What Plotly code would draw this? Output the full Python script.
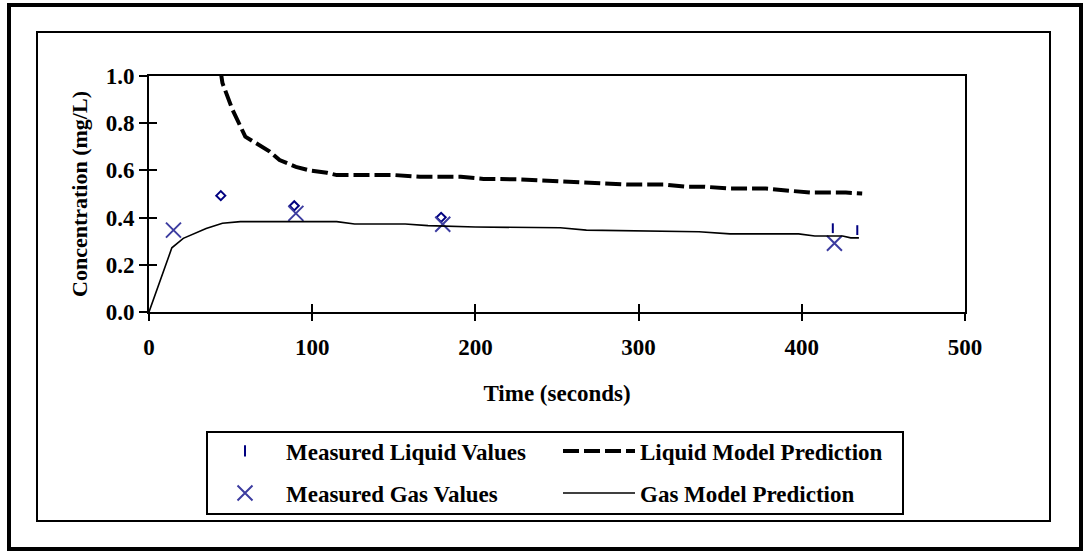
import plotly.graph_objects as go

# ---- data ----
liq_meas_t = [44, 89, 179, 419, 434]
liq_meas_c = [0.493, 0.450, 0.401, 0.355, 0.347]
liq_meas_sym = ["diamond-open", "diamond-open", "diamond-open", "line-ns", "line-ns"]

gas_meas_t = [15, 90, 180, 420]
gas_meas_c = [0.347, 0.418, 0.372, 0.291]

liq_model_t = [40, 45, 51, 59, 74, 80, 90, 99, 109, 115, 151, 166, 191, 205, 228,
               252, 267, 278, 293, 316, 329, 340, 356, 378, 396, 405, 427, 437]
liq_model_c = [1.2, 0.97, 0.86, 0.743, 0.68, 0.644, 0.615, 0.599, 0.59, 0.58, 0.58,
               0.573, 0.573, 0.564, 0.562, 0.555, 0.548, 0.548, 0.54, 0.54, 0.531,
               0.531, 0.523, 0.523, 0.514, 0.506, 0.506, 0.502]

gas_model_t = [0, 14, 21, 35, 45, 56, 115, 126, 157, 171, 200, 252, 268, 337, 356,
               398, 408, 425, 430, 435]
gas_model_c = [0, 0.272, 0.312, 0.354, 0.376, 0.383, 0.383, 0.373, 0.373, 0.366,
               0.36, 0.357, 0.347, 0.34, 0.331, 0.331, 0.322, 0.322, 0.314, 0.314]

x_ticks = [0, 100, 200, 300, 400, 500]
y_ticks = [0.0, 0.2, 0.4, 0.6, 0.8, 1.0]

FONT = "Liberation Serif"
NAVY = "#000080"
SLATE = "#3C3CA0"

fig = go.Figure()

# measured liquid (plot marks)
fig.add_trace(go.Scatter(
    x=liq_meas_t, y=liq_meas_c, mode="markers", showlegend=False,
    marker=dict(symbol=liq_meas_sym, size=7, color=NAVY,
                line=dict(color=NAVY, width=2)),
))
# legend row 1
fig.add_trace(go.Scatter(
    x=[None], y=[None], mode="markers", name="Measured Liquid Values", legend="legend",
    marker=dict(symbol="line-ns", size=8, color=NAVY, line=dict(color=NAVY, width=2)),
))
fig.add_trace(go.Scatter(
    x=liq_model_t, y=liq_model_c, mode="lines", name="Liquid Model Prediction",
    legend="legend",
    line=dict(color="black", width=4, dash="16px,5px"),
))
# legend row 2
fig.add_trace(go.Scatter(
    x=gas_meas_t, y=gas_meas_c, mode="markers", name="Measured Gas Values",
    legend="legend2",
    marker=dict(symbol="x-thin", size=15, color=SLATE,
                line=dict(color=SLATE, width=2)),
))
fig.add_trace(go.Scatter(
    x=gas_model_t, y=gas_model_c, mode="lines", name="Gas Model Prediction",
    legend="legend2",
    line=dict(color="black", width=1.6),
))

W, H = 1085, 552
L, R, T, B = 149, 120, 76, 240
pw, ph = W - L - R, H - T - B


def px(xp):
    return (xp - L) / pw


def py(yp):
    return (H - B - yp) / ph


def bfont(size):
    return dict(family=FONT, size=size, color="black", weight="bold")


legend_common = dict(
    orientation="h", xanchor="left", yanchor="middle",
    borderwidth=0, bgcolor="rgba(0,0,0,0)", font=bfont(23),
    entrywidth=267, entrywidthmode="pixels", itemwidth=72, traceorder="normal",
)

fig.update_layout(
    width=W, height=H,
    margin=dict(l=L, r=R, t=T, b=B, autoexpand=False),
    paper_bgcolor="white", plot_bgcolor="white",
    font=bfont(22),
    xaxis=dict(
        range=[0, 500], tickvals=x_ticks, ticktext=[str(v) for v in x_ticks],
        ticks="outside", ticklen=7, tickwidth=2, tickcolor="black",
        showline=True, linecolor="black", linewidth=2, mirror=True,
        showgrid=False, zeroline=False, tickfont=bfont(23), ticklabelstandoff=6,
        title=dict(text="Time (seconds)", font=bfont(23), standoff=26),
    ),
    yaxis=dict(
        range=[0, 1.0], tickvals=y_ticks, ticktext=[f"{v:.1f}" for v in y_ticks],
        ticks="outside", ticklen=8, tickwidth=2, tickcolor="black",
        showline=True, linecolor="black", linewidth=2, mirror=True,
        showgrid=False, zeroline=False, tickfont=bfont(23),
        title=dict(text="Concentration (mg/L)", font=bfont(22), standoff=12),
    ),
    xaxis2=dict(
        overlaying="x", anchor="y", side="bottom", range=[0, 500], tickvals=x_ticks,
        ticks="inside", ticklen=8, tickwidth=2, tickcolor="black",
        showticklabels=False, showgrid=False, zeroline=False, showline=False,
    ),
    yaxis2=dict(
        overlaying="y", anchor="x", side="left", range=[0, 1.0], tickvals=y_ticks,
        ticks="inside", ticklen=8, tickwidth=2, tickcolor="black",
        showticklabels=False, showgrid=False, zeroline=False, showline=False,
    ),
    legend=dict(x=px(204), y=py(451), **legend_common),
    legend2=dict(x=px(204), y=py(493), **legend_common),
    showlegend=True,
    shapes=[
        dict(type="rect", xref="paper", yref="paper",
             x0=px(9), x1=px(1081), y0=py(549), y1=py(5),
             line=dict(color="black", width=4), layer="below"),
        dict(type="rect", xref="paper", yref="paper",
             x0=px(37), x1=px(1050), y0=py(521), y1=py(32),
             line=dict(color="black", width=2), layer="below"),
        dict(type="rect", xref="paper", yref="paper",
             x0=px(207), x1=px(903), y0=py(514), y1=py(432),
             line=dict(color="black", width=2), layer="below"),
    ],
)

# invisible trace to anchor the overlay axes
fig.add_trace(go.Scatter(x=[None], y=[None], xaxis="x2", yaxis="y2",
                         showlegend=False, hoverinfo="skip"))

fig.write_html("out.html")
